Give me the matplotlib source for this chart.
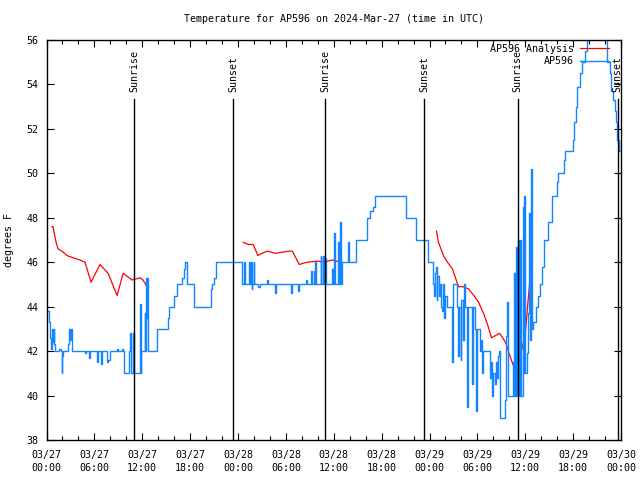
import numpy as np
import pandas as pd
import matplotlib
matplotlib.use("Agg")
import matplotlib.pyplot as plt
import matplotlib.dates as mdates

START = pd.Timestamp("2024-03-27 00:00")

# Observed AP596 temperature (hours since 03/27 00:00 UTC, deg F), stepped
obs_hours = [0.0, 0.3, 0.45, 0.55, 0.7, 0.8, 0.9, 1.0, 1.1, 1.6, 1.8, 1.9, 2.0, 2.1, 2.7, 2.85, 3.0, 3.1, 3.2,
             4.85, 5.0, 5.3, 5.45, 6.35, 6.45, 6.8, 6.9, 7.6, 7.75, 7.9, 8.8, 9.0, 9.5, 9.65, 9.75,
             10.4, 10.5, 10.6, 10.85, 10.95, 11.5, 11.7, 11.8, 11.85, 12.3, 12.4, 12.5, 12.6, 12.65, 12.75,
             13.8, 15.2, 15.4, 16.0, 16.3, 17.0, 17.2, 17.35, 17.6, 18.5, 20.6, 20.8, 21.0, 21.2,
             24.55, 24.75, 24.85, 25.4, 25.5, 25.6, 25.7, 25.8, 25.95, 26.05, 26.5, 26.7, 27.6, 27.75,
             28.6, 28.75, 30.6, 30.8, 31.5, 31.7, 32.5, 32.6, 33.1, 33.3, 33.5, 33.6, 33.7, 33.8,
             34.35, 34.45, 34.65, 34.8, 34.9, 35.0, 35.8, 35.9, 36.0, 36.1, 36.55, 36.65, 36.75, 36.82,
             36.9, 37.05, 37.8, 37.95, 38.8, 40.2, 40.5, 40.95, 41.2, 45.1, 46.25, 47.8,
             48.5, 48.6, 48.7, 48.8, 48.9, 49.0, 49.2, 49.35, 49.5, 49.6, 49.75, 49.85, 50.0, 50.2,
             50.85, 50.95, 51.5, 51.6, 51.75, 51.9, 52.0, 52.2, 52.35, 52.5, 52.7, 52.85, 53.3, 53.45,
             53.65, 53.8, 53.95, 54.3, 54.45, 54.6, 54.75, 55.6, 55.75, 55.85, 56.0, 56.15, 56.3,
             56.45, 56.55, 56.7, 56.8, 57.45, 57.6, 57.7, 57.8, 58.45, 58.55, 58.65, 58.75, 58.9,
             59.0, 59.1, 59.2, 59.35, 59.5, 59.7, 59.8, 59.9, 60.0, 60.2, 60.35, 60.5, 60.6, 60.75,
             60.85, 61.0, 61.3, 61.55, 61.8, 62.1, 62.3, 62.9, 63.3, 63.95, 64.1, 64.8, 65.0, 66.0,
             66.1, 66.4, 66.5, 66.8, 67.1, 67.5, 67.7, 67.9, 70.3, 70.6, 70.8, 71.0, 71.2, 71.35,
             71.55, 71.75, 72.0]
obs_temp = [43.8, 43.3, 42.6, 42.1, 43.0, 42.4, 43.0, 42.3, 42.0, 42.1, 42.0, 41.0, 41.8, 42.0, 42.3, 43.0, 42.5, 43.0, 42.0,
            41.9, 42.0, 41.7, 42.0, 41.5, 42.0, 41.4, 42.0, 41.5, 41.6, 42.0, 42.1, 42.0, 42.1, 42.0, 41.0,
            42.0, 42.8, 41.0, 42.8, 41.0, 41.0, 44.1, 41.0, 42.0, 43.7, 42.0, 45.3, 43.5, 45.3, 42.0,
            43.0, 43.5, 44.0, 44.5, 45.0, 45.3, 45.7, 46.0, 45.0, 44.0, 44.8, 45.0, 45.3, 46.0,
            45.0, 46.0, 45.0, 46.0, 45.0, 46.0, 44.8, 45.0, 46.0, 45.0, 44.9, 45.0, 45.2, 45.0,
            44.6, 45.0, 44.6, 45.0, 44.7, 45.0, 45.2, 45.0, 45.6, 45.0, 45.6, 45.0, 46.0, 45.0,
            46.3, 45.0, 46.3, 45.0, 46.2, 45.0, 45.7, 45.0, 47.3, 45.0, 46.9, 45.0, 47.5, 47.8,
            45.0, 46.0, 46.9, 46.0, 47.0, 48.0, 48.3, 48.5, 49.0, 48.0, 47.0, 46.0,
            45.0, 44.5, 45.5, 45.8, 44.3, 45.4, 44.5, 45.0, 44.0, 43.8, 45.0, 43.5, 44.5, 44.0,
            41.5, 45.0, 44.0, 41.8, 44.0, 41.6, 44.3, 42.5, 45.0, 44.0, 39.5, 44.0, 40.5, 44.0,
            43.0, 39.3, 43.0, 42.0, 42.5, 41.0, 42.0, 40.8, 41.5, 40.0, 41.0, 40.5, 41.5,
            40.8, 41.8, 42.0, 39.0, 39.8, 42.7, 44.2, 40.0, 41.5, 40.0, 45.5, 40.0, 46.7,
            40.0, 47.0, 40.0, 47.0, 40.0, 48.5, 41.0, 49.0, 41.0, 41.9, 43.7, 48.2, 42.5, 50.2,
            43.0, 43.3, 44.0, 44.5, 45.0, 45.8, 47.0, 47.8, 49.0, 49.6, 50.0, 50.6, 51.0, 51.5,
            52.3, 53.0, 53.9, 54.5, 55.0, 55.5, 56.0, 56.8, 55.0, 54.5, 53.7, 53.3, 52.8, 52.3,
            51.5, 51.0, 51.0]

# Analysis series (NaN separates segments)
ana_hours = [0.69, 0.82, 1.2, 1.44, 1.94, 2.57, 3.33, 4.2, 4.83, 5.58, 6.71, 7.72, 8.85, 9.6, 10.73, 11.73, 12.1, 12.6,
             18.0,
             24.65, 25.28, 25.9, 26.5, 27.0, 27.67, 28.67, 29.55, 30.3, 30.8, 31.68, 32.68, 33.94, 34.7, 35.82, 36.83,
             42.0,
             48.87, 49.12, 49.75, 50.25, 50.88, 51.63, 52.13, 52.9, 53.77, 54.15, 54.77, 55.27, 55.77, 56.27, 56.78,
             57.53, 58.16, 58.66, 59.03, 59.16, 59.66, 60.03, 60.29, 60.66]
ana_temp = [47.6, 47.6, 46.9, 46.6, 46.5, 46.3, 46.2, 46.1, 46.0, 45.1, 45.9, 45.5, 44.5, 45.5, 45.2, 45.3, 45.2, 44.9,
            np.nan,
            46.9, 46.8, 46.8, 46.3, 46.4, 46.5, 46.4, 46.45, 46.5, 46.5, 45.9, 46.0, 46.05, 46.0, 46.1, 46.0,
            np.nan,
            47.4, 46.9, 46.3, 46.0, 45.7, 44.9, 44.9, 44.8, 44.4, 44.2, 43.7, 43.2, 42.6, 42.7, 42.8,
            42.4, 41.7, 41.2, 41.2, 41.5, 42.2, 42.9, 44.0, 45.5]

# Sunrise / sunset events (hours since start)
sun_hours = [10.98, 23.4, 34.95, 47.37, 59.04, 71.6]
sun_labels = ["Sunrise", "Sunset", "Sunrise", "Sunset", "Sunrise", "Sunset"]

FONT = "DejaVu Sans Mono"
FS = 7.2
plt.rcParams['font.family'] = FONT
plt.rcParams['font.size'] = FS

def to_time(h):
    return START + pd.to_timedelta(np.asarray(h, dtype=float), unit="h")

fig = plt.figure(figsize=(6.4, 4.8), dpi=100)
L, R, T, B = 46.5, 621, 40, 440
ax = fig.add_axes([L / 640, 1 - B / 480, (R - L) / 640, (B - T) / 480])

red = "#ff0000"
blue = "#1585ff"

ax.plot(to_time(ana_hours), ana_temp, color=red, lw=0.9, label="AP596 Analysis")
ax.plot(to_time(obs_hours), obs_temp, color=blue, lw=1.0, drawstyle="steps-post", label="AP596")

ymin_v, ymax_v = 38, 56
line_top = 56 - (99 - 40) / (400 / 18)
label_bottom = 56 - (92 - 40) / (400 / 18)
for h, lab in zip(sun_hours, sun_labels):
    t = to_time([h])[0]
    ax.plot([t, t], [ymin_v, line_top], color="black", lw=1.0)
    ax.text(t, label_bottom, lab, rotation=90, ha="center", va="bottom", fontsize=FS)

ax.set_ylim(ymin_v, ymax_v)
ax.set_xlim(to_time([0])[0], to_time([72])[0])
ax.set_yticks(np.arange(38, 57, 2))

ax.xaxis.set_major_locator(mdates.HourLocator(byhour=[0, 6, 12, 18]))
ax.xaxis.set_minor_locator(mdates.HourLocator(byhour=range(0, 24, 2)))
ax.xaxis.set_major_formatter(mdates.DateFormatter("%m/%d\n%H:%M"))

ax.tick_params(which="both", direction="in", top=True, right=True, labelsize=FS, width=0.8)
ax.tick_params(which="major", length=5)
ax.tick_params(which="minor", length=3)
ax.tick_params(axis="x", pad=7)
ax.tick_params(axis="y", pad=6)
for lbl in ax.get_xticklabels():
    lbl.set_linespacing(1.35)
for s in ax.spines.values():
    s.set_linewidth(1.0)

ax.set_ylabel("degrees F", fontsize=FS)
ax.yaxis.set_label_coords((14 - L) / (R - L), 0.5)

fig.text(333.5 / 640, 1 - 19 / 480, "Temperature for AP596 on 2024-Mar-27 (time in UTC)",
         ha="center", va="center", fontsize=FS)

leg = ax.legend(loc="upper right", bbox_to_anchor=((609 - L) / (R - L), 1 - 4 / 400),
                frameon=False, markerfirst=False, handlelength=2.9, handletextpad=0.6,
                labelspacing=0.25, borderpad=0, borderaxespad=0, fontsize=FS)

fig.savefig("out.png", dpi=100)
